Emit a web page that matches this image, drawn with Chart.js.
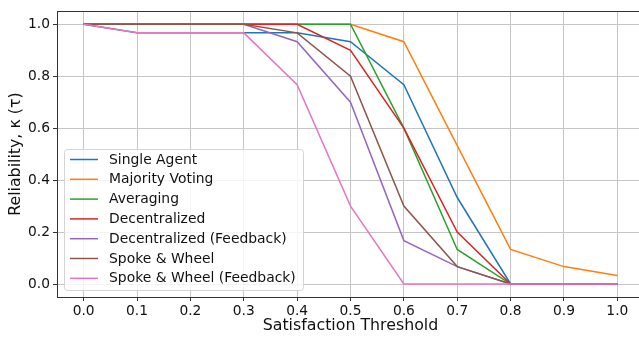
<!DOCTYPE html>
<html>
<head>
<meta charset="utf-8">
<script src="https://cdn.jsdelivr.net/npm/chart.js@4.4.1/dist/chart.umd.min.js"></script>
<style>
  html, body { margin: 0; padding: 0; background: #fff; overflow: hidden; }
  #wrap { width: 646px; height: 337px; position: relative; }
</style>
</head>
<body>
<div id="wrap"><canvas id="chart"></canvas></div>
<script>
const thresholds = [0.0, 0.1, 0.2, 0.3, 0.4, 0.5, 0.6, 0.7, 0.8, 0.9, 1.0];
const xTicks = [0.0, 0.1, 0.2, 0.3, 0.4, 0.5, 0.6, 0.7, 0.8, 0.9, 1.0];
const yTicks = [0.0, 0.2, 0.4, 0.6, 0.8, 1.0];

const seriesNames = [
  "Single Agent",
  "Majority Voting",
  "Averaging",
  "Decentralized",
  "Decentralized (Feedback)",
  "Spoke & Wheel",
  "Spoke & Wheel (Feedback)"
];

const singleAgent = [1.0, 0.967, 0.967, 0.967, 0.967, 0.933, 0.767, 0.333, 0.0, 0.0, 0.0];
const majorityVoting = [1.0, 1.0, 1.0, 1.0, 1.0, 1.0, 0.933, 0.533, 0.133, 0.067, 0.033];
const averaging = [1.0, 1.0, 1.0, 1.0, 1.0, 1.0, 0.6, 0.133, 0.0, 0.0, 0.0];
const decentralized = [1.0, 1.0, 1.0, 1.0, 1.0, 0.9, 0.6, 0.2, 0.0, 0.0, 0.0];
const decentralizedFeedback = [1.0, 1.0, 1.0, 1.0, 0.933, 0.7, 0.167, 0.067, 0.0, 0.0, 0.0];
const spokeWheel = [1.0, 1.0, 1.0, 1.0, 0.967, 0.8, 0.3, 0.067, 0.0, 0.0, 0.0];
const spokeWheelFeedback = [1.0, 0.967, 0.967, 0.967, 0.767, 0.3, 0.0, 0.0, 0.0, 0.0, 0.0];

const seriesValues = [
  singleAgent,
  majorityVoting,
  averaging,
  decentralized,
  decentralizedFeedback,
  spokeWheel,
  spokeWheelFeedback
];

const colors = ["#1f77b4", "#ff7f0e", "#2ca02c", "#d62728", "#9467bd", "#8c564b", "#e377c2"];

const FONT = "'DejaVu Sans', sans-serif";
const textColor = "#111111";

// matplotlib-style frame: top and right spines
const framePlugin = {
  id: "frame",
  afterDraw(chart) {
    const { ctx, chartArea } = chart;
    ctx.save();
    ctx.strokeStyle = "#333";
    ctx.lineWidth = 1;
    ctx.strokeRect(
      Math.round(chartArea.left) + 0.5,
      Math.round(chartArea.top) + 0.5,
      Math.round(chartArea.right - chartArea.left),
      Math.round(chartArea.bottom - chartArea.top)
    );
    ctx.restore();
  }
};

// legend drawn inside the plot, lower left
const legendPlugin = {
  id: "insideLegend",
  afterDraw(chart) {
    const { ctx } = chart;
    const boxX = 64.5;
    const boxY = 149.5;
    const boxW = 239;
    const boxH = 141;
    const rowH = 19.8;
    ctx.save();
    ctx.beginPath();
    ctx.roundRect(boxX, boxY, boxW, boxH, 3);
    ctx.fillStyle = "rgba(255,255,255,0.8)";
    ctx.fill();
    ctx.strokeStyle = "#d4d4d4";
    ctx.lineWidth = 1;
    ctx.stroke();

    ctx.font = "13.9px " + FONT;
    ctx.textBaseline = "middle";
    ctx.textAlign = "left";
    chart.data.datasets.forEach((ds, i) => {
      const y = boxY + 10 + rowH * i;
      ctx.strokeStyle = ds.borderColor;
      ctx.lineWidth = 1.5;
      ctx.beginPath();
      ctx.moveTo(70, y);
      ctx.lineTo(98, y);
      ctx.stroke();
      ctx.fillStyle = textColor;
      ctx.fillText(ds.label, 109, y + 0.5);
    });
    ctx.restore();
  }
};

const datasets = seriesNames.map((name, i) => ({
  label: name,
  data: thresholds.map((t, j) => ({ x: t, y: seriesValues[i][j] })),
  borderColor: colors[i],
  backgroundColor: colors[i],
  borderWidth: 1.5,
  pointRadius: 0,
  tension: 0,
  fill: false,
  order: seriesNames.length - i
}));

new Chart(document.getElementById("chart"), {
  type: "line",
  data: { datasets },
  options: {
    responsive: true,
    maintainAspectRatio: false,
    animation: false,
    events: [],
    layout: { padding: { top: 6, right: 2, left: 0, bottom: 0 } },
    plugins: {
      legend: { display: false },
      tooltip: { enabled: false }
    },
    scales: {
      x: {
        type: "linear",
        min: -0.05,
        max: 1.05,
        afterFit: (s) => { s.height = 40; },
        afterBuildTicks: (s) => { s.ticks = xTicks.map((v) => ({ value: v })); },
        grid: { color: "#c6c6c6", lineWidth: 1, tickLength: 4, tickColor: "#333" },
        border: { display: true, color: "#333", width: 1 },
        ticks: {
          color: textColor,
          font: { family: FONT, size: 13.8 },
          padding: 2,
          maxRotation: 0,
          autoSkip: false,
          callback: (v) => Number(v).toFixed(1)
        },
        title: {
          display: true,
          text: "Satisfaction Threshold",
          color: textColor,
          font: { family: FONT, size: 15.8 },
          padding: { top: 0, bottom: 2 }
        }
      },
      y: {
        type: "linear",
        min: -0.05,
        max: 1.05,
        afterFit: (s) => { s.width = 57; },
        afterBuildTicks: (s) => { s.ticks = yTicks.map((v) => ({ value: v })); },
        grid: { color: "#c6c6c6", lineWidth: 1, tickLength: 4, tickColor: "#333" },
        border: { display: true, color: "#333", width: 1 },
        ticks: {
          color: textColor,
          font: { family: FONT, size: 13.8 },
          padding: 3,
          autoSkip: false,
          callback: (v) => Number(v).toFixed(1)
        },
        title: {
          display: true,
          text: "Reliability, κ (τ)",
          color: textColor,
          font: { family: FONT, size: 15.8 },
          padding: { top: 6, bottom: 0 }
        }
      }
    }
  },
  plugins: [framePlugin, legendPlugin]
});
</script>
</body>
</html>
